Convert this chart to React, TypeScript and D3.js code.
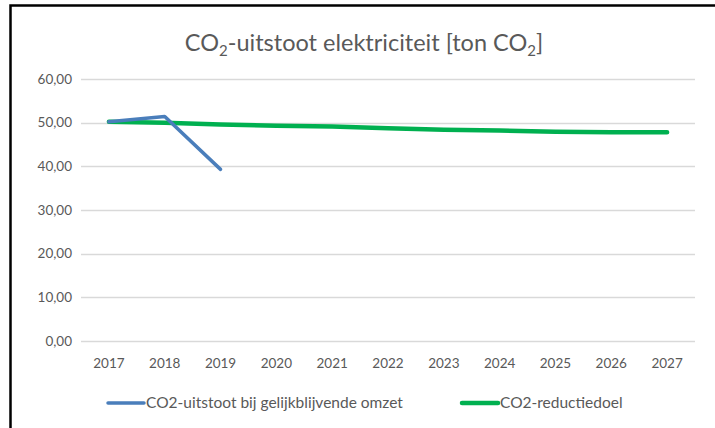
import { useEffect, useRef } from "react";
import * as d3 from "d3";

const years = ["2017", "2018", "2019", "2020", "2021", "2022", "2023", "2024", "2025", "2026", "2027"];
const uitstoot = [50.2, 51.4, 39.3];
const reductiedoel = [50.2, 50.0, 49.6, 49.3, 49.1, 48.7, 48.4, 48.2, 47.9, 47.8, 47.8];
const yTicks = [0, 10, 20, 30, 40, 50, 60];
const seriesNames = ["CO2-uitstoot bij gelijkblijvende omzet", "CO2-reductiedoel"];
const colors = ["#4a7ebb", "#00b050"];

const font = "Lato, 'Open Sans', sans-serif";
const textColor = "#595959";

export default function App() {
    const svgRef = useRef<SVGSVGElement>(null);

    useEffect(() => {
        if (!svgRef.current) return;
        const svg = d3.select(svgRef.current);
        svg.selectAll("*").remove();

        const width = 715;
        const height = 428;
        const margin = {top: 79, right: 20, bottom: 87, left: 81};

        // chart frame (only left and top visible)
        svg.append("path")
            .attr("d", `M10.5,${height} V5.5 H${width}`)
            .attr("fill", "none")
            .attr("stroke", "#000")
            .attr("stroke-width", 2.5);

        svg.append("text")
            .attr("x", 364)
            .attr("y", 51)
            .attr("text-anchor", "middle")
            .style("font-family", font)
            .style("font-size", "23.5px")
            .attr("fill", textColor)
            .call(t => {
                t.append("tspan").text("CO");
                t.append("tspan").text("2").attr("dy", 5).style("font-size", "15px");
                t.append("tspan").text("-uitstoot elektriciteit [ton CO").attr("dy", -5);
                t.append("tspan").text("2").attr("dy", 5).style("font-size", "15px");
                t.append("tspan").text("]").attr("dy", -5);
            });

        const x = d3.scaleBand()
            .domain(years)
            .range([margin.left, width - margin.right]);
        const y = d3.scaleLinear()
            .domain([0, 60])
            .range([height - margin.bottom, margin.top]);

        // gridlines
        svg.append("g")
            .selectAll("line")
            .data(yTicks)
            .join("line")
            .attr("x1", margin.left)
            .attr("x2", width - margin.right)
            .attr("y1", d => Math.round(y(d)) + 0.5)
            .attr("y2", d => Math.round(y(d)) + 0.5)
            .attr("stroke", "#d9d9d9")
            .attr("stroke-width", 1.3);

        // y labels
        svg.append("g")
            .selectAll("text")
            .data(yTicks)
            .join("text")
            .attr("x", 72)
            .attr("y", d => y(d))
            .attr("dy", "0.35em")
            .attr("text-anchor", "end")
            .style("font-family", font)
            .style("font-size", "13.5px")
            .attr("fill", textColor)
            .text(d => d3.format(".2f")(d).replace(".", ","));

        // x labels
        svg.append("g")
            .selectAll("text")
            .data(years)
            .join("text")
            .attr("x", d => x(d)! + x.bandwidth() / 2)
            .attr("y", 363)
            .attr("dy", "0.35em")
            .attr("text-anchor", "middle")
            .style("font-family", font)
            .style("font-size", "13.5px")
            .attr("fill", textColor)
            .text(d => d);

        const line = d3.line<number>()
            .x((d, i) => x(years[i])! + x.bandwidth() / 2)
            .y(d => y(d));

        svg.append("path")
            .datum(reductiedoel)
            .attr("fill", "none")
            .attr("stroke", colors[1])
            .attr("stroke-width", 4.5)
            .attr("stroke-linecap", "round")
            .attr("stroke-linejoin", "round")
            .attr("d", line);

        svg.append("path")
            .datum(uitstoot)
            .attr("fill", "none")
            .attr("stroke", colors[0])
            .attr("stroke-width", 3.5)
            .attr("stroke-linecap", "round")
            .attr("stroke-linejoin", "round")
            .attr("d", line);

        // legend
        const legendX = [108, 462];
        seriesNames.forEach((name, i) => {
            svg.append("line")
                .attr("x1", legendX[i])
                .attr("x2", legendX[i] + 36)
                .attr("y1", 403)
                .attr("y2", 403)
                .attr("stroke", colors[i])
                .attr("stroke-width", i === 0 ? 3.5 : 4.5)
                .attr("stroke-linecap", "round");
            svg.append("text")
                .attr("x", legendX[i] + 38)
                .attr("y", 403)
                .attr("dy", "0.35em")
                .style("font-family", font)
                .style("font-size", "15.5px")
                .attr("fill", textColor)
                .text(name);
        });
    }, []);

    return (
        <svg ref={svgRef} width={715} height={428}
             style={{position: "absolute", left: 0, top: 0, background: "#fff"}}></svg>
    );
}
